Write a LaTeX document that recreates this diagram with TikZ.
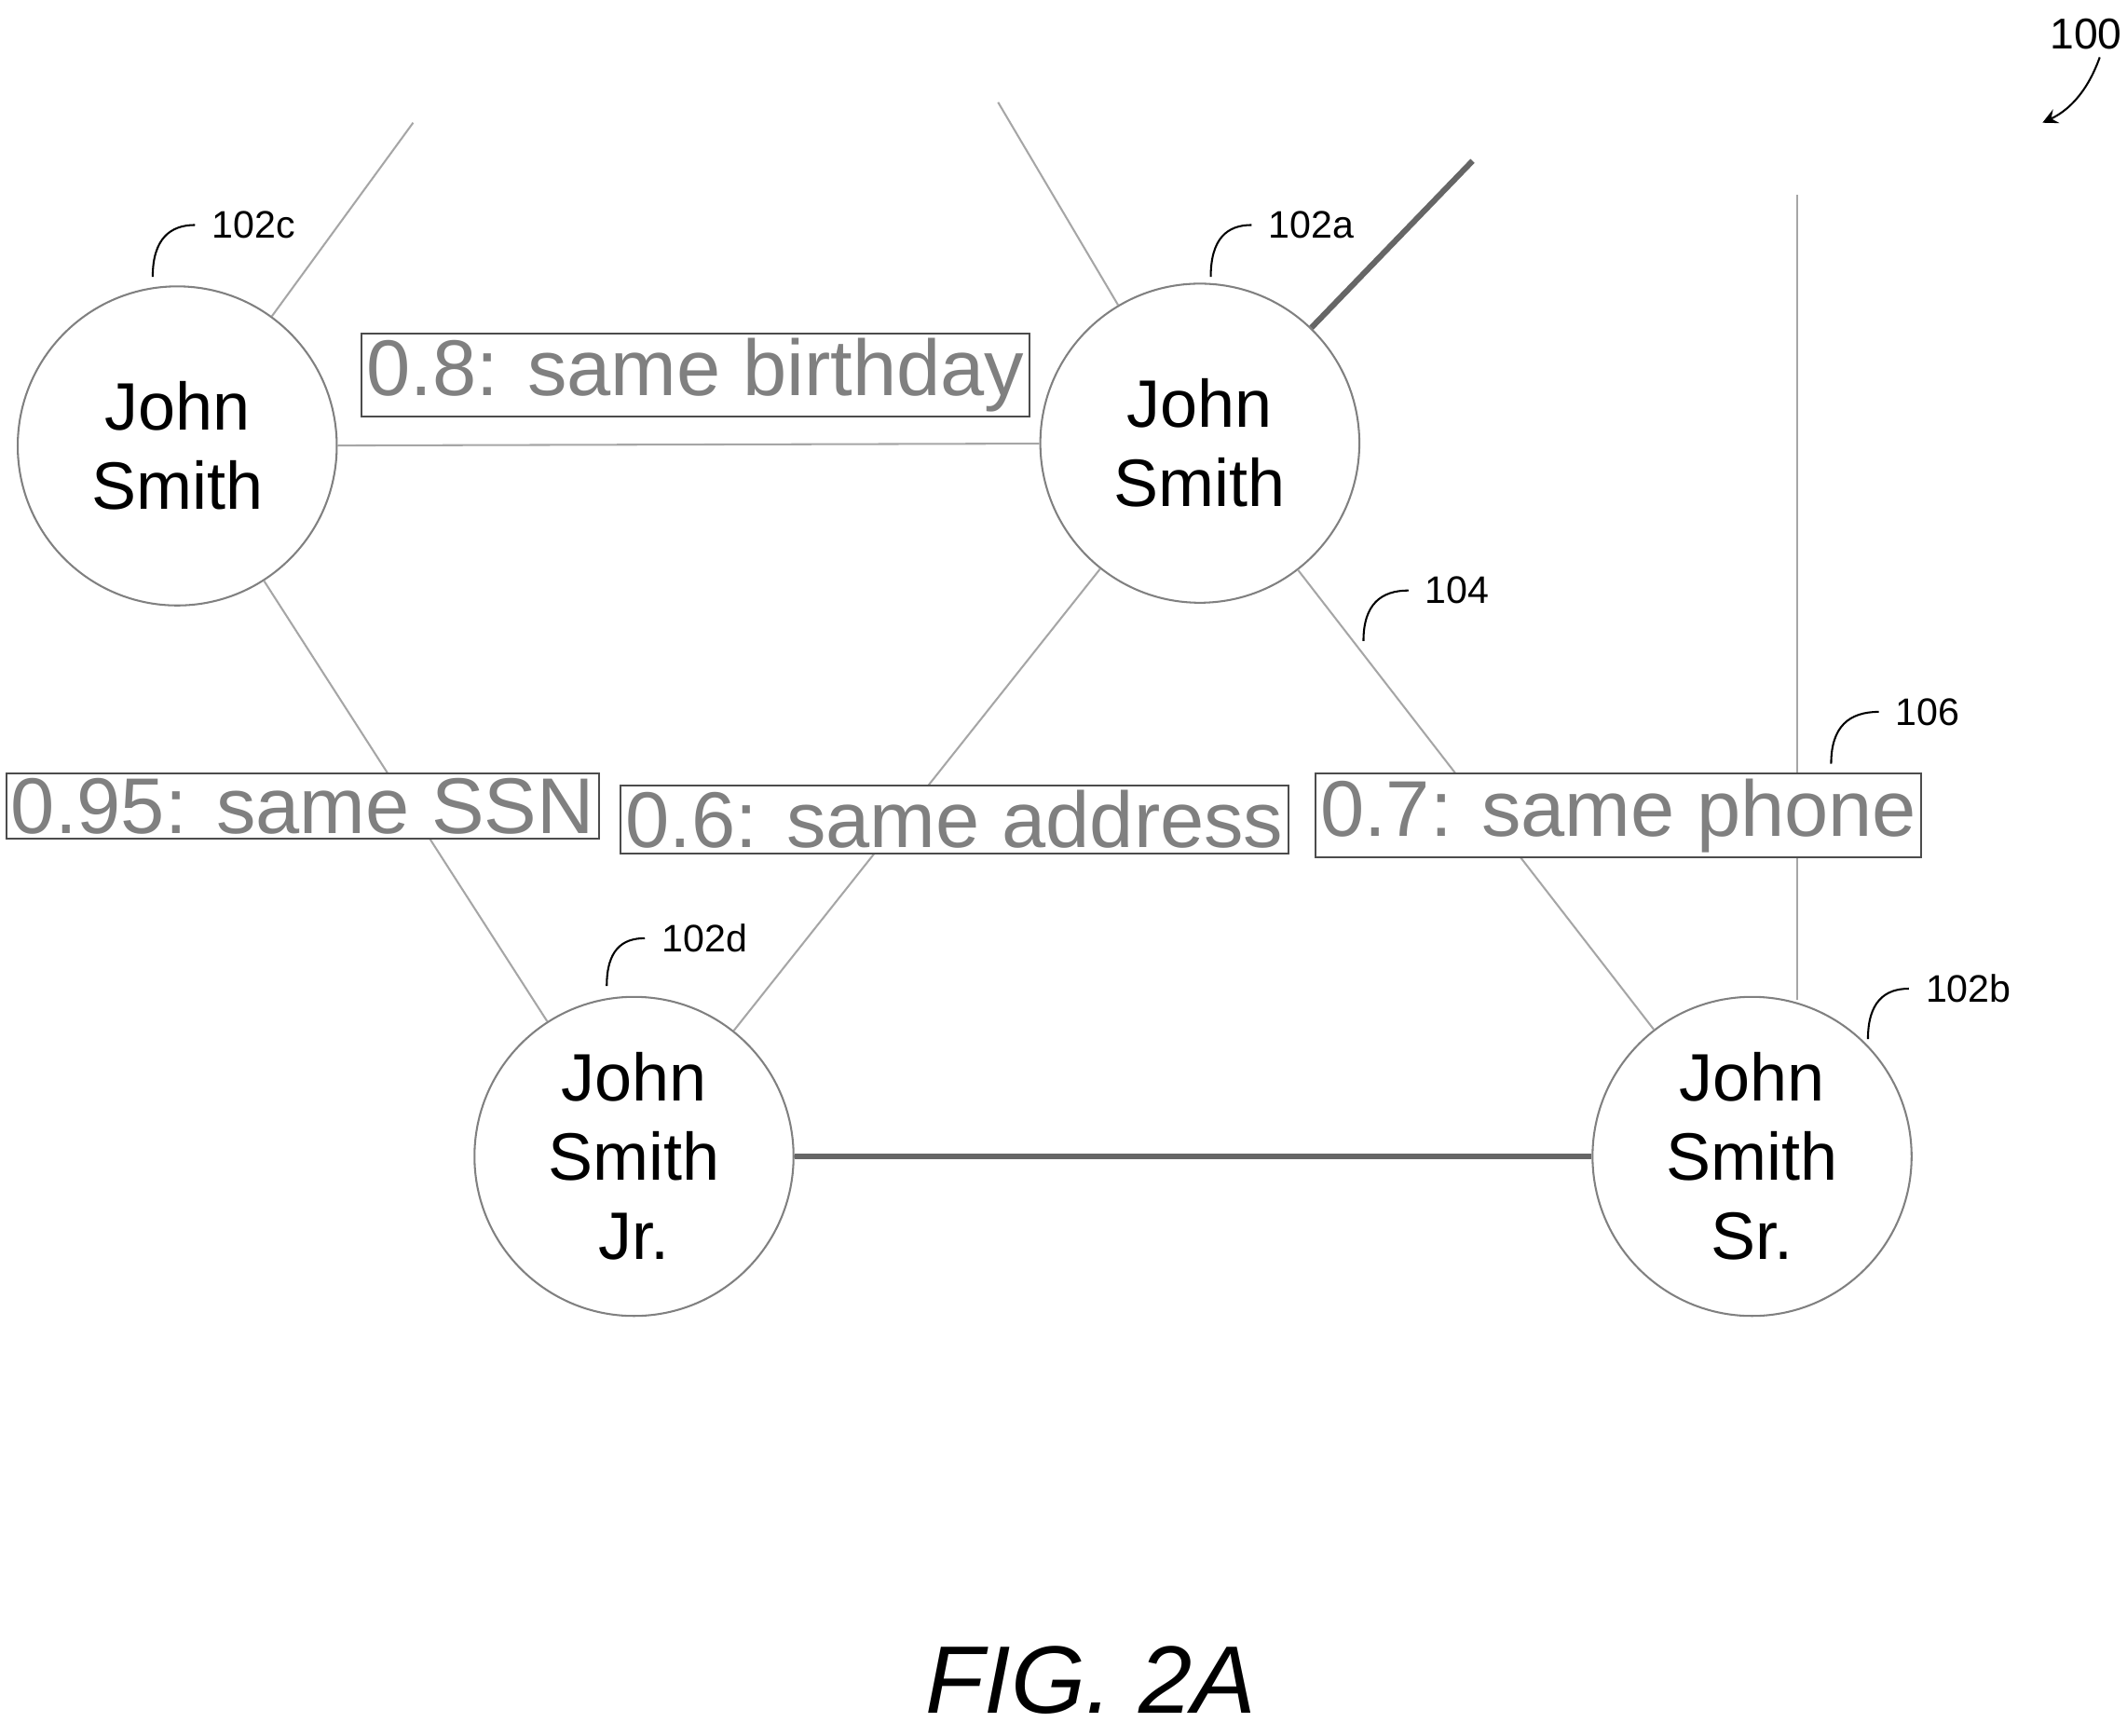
\documentclass[tikz,border=0pt]{standalone}
\usepackage{fontspec}
\setmainfont{Liberation Sans}
\usetikzlibrary{positioning}
\tikzset{
  person/.style={circle,draw=gray,minimum size=23.4mm,inner sep=0pt,align=center,
    font=\fontsize{14}{16.5}\selectfont},
  weight/.style={draw=black!70,fill=white,inner sep=1pt,text=gray,
    font=\fontsize{16.5}{18}\selectfont},
  link/.style={gray!70},
  strong/.style={gray!80!black,line width=1.2pt},
  refnum/.style={font=\fontsize{8}{9}\selectfont},
}
\begin{document}
\begin{tikzpicture}[x=0.1mm,y=-0.1mm]
    \useasboundingbox (0,0) rectangle (1560,1273);
    % persons
    \node[person] (pc) at (130,327) {John\\Smith};
    \node[person] (pa) at (880,325) {John\\Smith};
    \node[person] (pd) at (465,848) {John\\Smith\\Jr.};
    \node[person] (pb) at (1285,848) {John\\Smith\\Sr.};
    % loose ends
    \coordinate (ec) at (303,90);
    \coordinate (ea) at (732,75);
    \coordinate (eb) at (1080,118);
    \coordinate (ev) at (1318,143);
    \coordinate (evb) at (1318,733);
    % links
    \draw[link] (pc) -- (pa);
    \draw[link] (pc) -- (pd);
    \draw[link] (pa) -- (pd);
    \draw[link] (pa) -- (pb);
    \draw[strong] (pd) -- (pb);
    \draw[link] (pc) -- (ec);
    \draw[link] (pa) -- (ea);
    \draw[strong] (pa) -- (eb);
    \draw[link] (ev) -- (evb);
    % weights
    \node[weight] (wca) at (510,275) {0.8: same birthday};
    \node[weight] (wcd) at (222,591) {0.95: same SSN};
    \node[weight] (wad) at (700,601) {0.6: same address};
    \node[weight] (wab) at (1187,598) {0.7: same phone};
    % reference numbers
    \node[refnum,anchor=west] (nc) at (143,165) {102c};
    \draw (112,203) .. controls (112,175) and (125,165) .. (nc.west);
    \node[refnum,anchor=west] (na) at (918,165) {102a};
    \draw (888,203) .. controls (888,175) and (900,165) .. (na.west);
    \node[refnum,anchor=west] (n104) at (1033,433) {104};
    \draw (1000,470) .. controls (1000,443) and (1013,433) .. (n104.west);
    \node[refnum,anchor=west] (n106) at (1378,522) {106};
    \draw (1343,560) .. controls (1343,533) and (1356,522) .. (n106.west);
    \node[refnum,anchor=west] (nd) at (473,688) {102d};
    \draw (445,723) .. controls (445,697) and (456,688) .. (nd.west);
    \node[refnum,anchor=west] (nb) at (1400,725) {102b};
    \draw (1370,762) .. controls (1370,735) and (1382,725) .. (nb.west);
    \node[refnum,font=\fontsize{9}{10}\selectfont] (n100) at (1530,25) {100};
    \draw[-stealth] (1540,42) .. controls (1530,70) and (1515,82) .. (1498,90);
    % caption
    \node[font=\fontsize{20}{22}\selectfont\itshape] (fig) at (800,1232) {FIG. 2A};
\end{tikzpicture}
\end{document}
